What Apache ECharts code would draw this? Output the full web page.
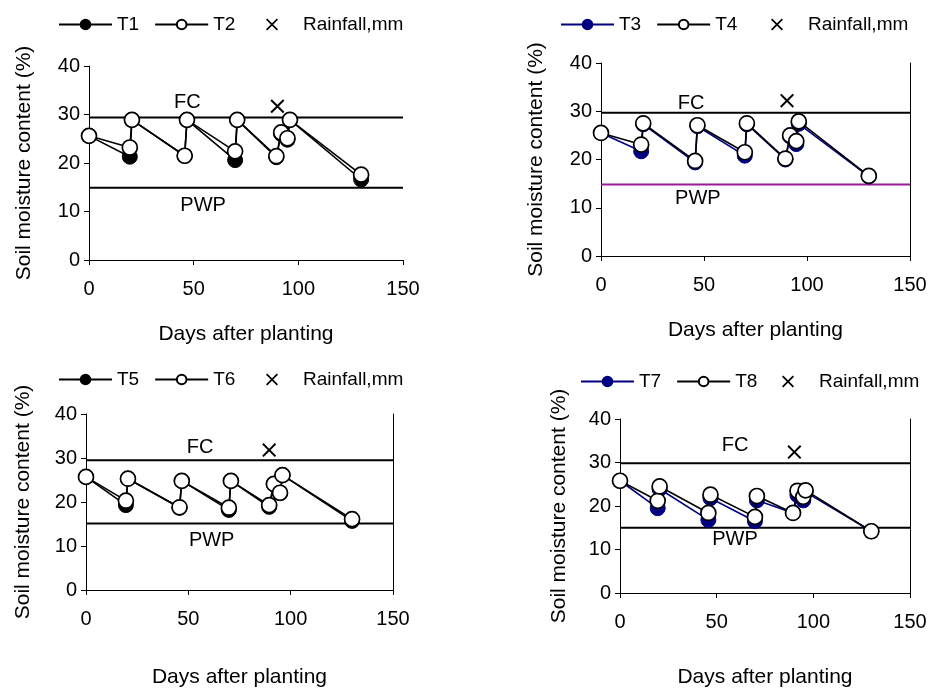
<!DOCTYPE html>
<html>
<head>
<meta charset="utf-8">
<script src="https://cdn.jsdelivr.net/npm/echarts@6/dist/echarts.min.js"></script>
<style>
  html, body { margin: 0; padding: 0; background: #fff; }
  #chart { width: 932px; height: 689px; }
</style>
</head>
<body>
<div id="chart"></div>
<script>
// measurement days (shared by all four panels)
var days = [0, 19.5, 20.5, 45.7, 46.8, 69.8, 70.8, 89.5, 91.8, 94.8, 96, 130];

// soil moisture (%) per treatment
var T1 = [25.6, 21.3, 28.9, 21.5, 28.9, 20.6, 28.9, 21.2, 26.0, 24.8, 28.9, 16.6];
var T2 = [25.6, 23.2, 28.9, 21.5, 28.9, 22.4, 28.9, 21.4, 26.3, 25.1, 28.9, 17.6];
var T3 = [25.5, 21.7, 27.3, 19.4, 26.9, 20.8, 27.3, 20.0, 24.8, 23.2, 27.4, 16.5];
var T4 = [25.5, 23.1, 27.5, 19.7, 27.1, 21.5, 27.5, 20.2, 25.0, 23.8, 27.9, 16.6];
var T5 = [25.7, 19.3, 25.3, 18.7, 24.8, 18.2, 24.8, 18.9, 24.0, 22.0, 26.1, 15.7];
var T6 = [25.7, 20.3, 25.3, 18.8, 24.8, 18.7, 24.8, 19.3, 24.1, 22.1, 26.1, 16.1];
var T7 = [25.8, 19.5, 23.9, 16.8, 21.8, 16.5, 21.3, 18.4, 22.5, 21.3, 23.2, 14.2];
var T8 = [25.8, 21.2, 24.5, 18.4, 22.6, 17.5, 22.3, 18.4, 23.5, 22.1, 23.6, 14.2];

// rainfall marker [day, value] per panel
var rainDay = [90, 90.3, 89.5, 90.2];
var rainVal = [31.7, 32.2, 31.8, 32.4];

// field capacity / permanent wilting point per panel
var fcVal = [29.4, 29.7, 29.5, 29.8];
var pwpVal = [14.9, 14.8, 15.1, 15.0];

// FC / PWP text anchors [day, value]
var fcLabel = [[47, 32.4], [43.7, 31.7], [55.7, 32.5], [59.5, 33.8]];
var pwpLabel = [[54.5, 11.3], [47, 12.0], [61.4, 11.2], [59.5, 12.2]];

var xTicks = [0, 50, 100, 150];
var yTicks = [0, 10, 20, 30, 40];

var names = [['T1', 'T2'], ['T3', 'T4'], ['T5', 'T6'], ['T7', 'T8']];
var seriesData = [[T1, T2], [T3, T4], [T5, T6], [T7, T8]];
var filledColor = ['#000000', '#000080', '#000000', '#000080'];
var pwpColor = ['#000000', '#9a1a9a', '#000000', '#000000'];

// layout
var grids = [
  {left: 89, top: 66, width: 314, height: 194},
  {left: 601, top: 63, width: 309, height: 193},
  {left: 86, top: 414, width: 307, height: 186},
  {left: 620, top: 419, width: 290, height: 181}
];
var legendPos = [[58, 15], [560, 15], [58, 370], [580, 372]];
var rainLegendX = [266, 771, 266, 782];
var xNameGap = [64, 64, 77, 74];
var yNameGap = [54, 54, 52, 50];
var rightBorder = [false, true, true, true];

var font = 'Liberation Sans, Arial, sans-serif';
var cross = 'path://M0,1L1,0L5,4L9,0L10,1L6,5L10,9L9,10L5,6L1,10L0,9L4,5Z';

function pairs(xs, ys) {
  var out = [];
  for (var i = 0; i < xs.length; i++) out.push([xs[i], ys[i]]);
  return out;
}

var option = {
  animation: false,
  backgroundColor: '#fff',
  textStyle: {fontFamily: font, color: '#000'},
  grid: [], xAxis: [], yAxis: [], legend: [], series: []
};

for (var p = 0; p < 4; p++) {
  option.grid.push(grids[p]);
  option.xAxis.push({
    type: 'value', gridIndex: p, min: 0, max: 150, interval: 50,
    name: 'Days after planting', nameLocation: 'middle', nameGap: xNameGap[p],
    nameTextStyle: {fontSize: 21, color: '#000', fontFamily: font},
    axisLine: {show: true, onZero: false, lineStyle: {color: '#000', width: 1}},
    axisTick: {show: true, length: 5, lineStyle: {color: '#000'}},
    axisLabel: {fontSize: 20, color: '#000', margin: 19, fontFamily: font,
      formatter: function (v) { return xTicks.indexOf(v) >= 0 ? String(v) : ''; }},
    splitLine: {show: false}
  });
  option.yAxis.push({
    type: 'value', gridIndex: p, min: 0, max: 40, interval: 10,
    name: 'Soil moisture content (%)', nameLocation: 'middle', nameGap: yNameGap[p],
    nameTextStyle: {fontSize: 21, color: '#000', fontFamily: font},
    axisLine: {show: true, lineStyle: {color: '#000', width: 1}},
    axisTick: {show: true, length: 5, lineStyle: {color: '#000'}},
    axisLabel: {fontSize: 20, color: '#000', margin: 9, fontFamily: font,
      formatter: function (v) { return yTicks.indexOf(v) >= 0 ? String(v) : ''; }},
    splitLine: {show: false}
  });
  option.legend.push({
    left: legendPos[p][0], top: legendPos[p][1], padding: 0,
    itemWidth: 53, itemHeight: 12, itemGap: 15, selectedMode: false,
    textStyle: {fontSize: 19, color: '#000', fontFamily: font},
    data: [names[p][0], names[p][1]]
  });
  option.legend.push({
    left: rainLegendX[p], top: legendPos[p][1], padding: 0,
    itemWidth: 12, itemHeight: 12, selectedMode: false,
    textStyle: {fontSize: 19, color: '#000', fontFamily: font, padding: [0, 0, 0, 20]},
    data: ['Rainfall,mm']
  });

  var xi = p, yi = p;

  // FC / PWP reference lines
  option.series.push({
    type: 'line', name: 'FC' + p, xAxisIndex: xi, yAxisIndex: yi, symbol: 'none',
    lineStyle: {color: '#000', width: 2}, data: [[0, fcVal[p]], [150, fcVal[p]]], z: 1
  });
  option.series.push({
    type: 'line', name: 'PWP' + p, xAxisIndex: xi, yAxisIndex: yi, symbol: 'none',
    lineStyle: {color: pwpColor[p], width: 2}, data: [[0, pwpVal[p]], [150, pwpVal[p]]], z: 1
  });
  option.series.push({
    type: 'scatter', name: 'lbl' + p, xAxisIndex: xi, yAxisIndex: yi, symbolSize: 0,
    silent: true, itemStyle: {opacity: 1},
    label: {show: true, position: 'inside', fontSize: 20, color: '#000', opacity: 1,
      fontFamily: font, formatter: function (d) { return d.data[2]; }},
    data: [[fcLabel[p][0], fcLabel[p][1], 'FC'], [pwpLabel[p][0], pwpLabel[p][1], 'PWP']]
  });

  // filled treatment
  option.series.push({
    type: 'line', name: names[p][0], xAxisIndex: xi, yAxisIndex: yi,
    symbol: 'circle', symbolSize: 15, showAllSymbol: true,
    itemStyle: {color: filledColor[p], borderColor: filledColor[p], borderWidth: 1},
    lineStyle: {color: filledColor[p], width: 1.6},
    data: pairs(days, seriesData[p][0]), z: 3
  });
  // open treatment
  option.series.push({
    type: 'line', name: names[p][1], xAxisIndex: xi, yAxisIndex: yi,
    symbol: 'circle', symbolSize: 15, showAllSymbol: true,
    itemStyle: {color: '#fff', borderColor: '#000', borderWidth: 1.7},
    lineStyle: {color: '#000', width: 1.6},
    data: pairs(days, seriesData[p][1]), z: 4
  });
  // rainfall
  option.series.push({
    type: 'scatter', name: 'Rainfall,mm', xAxisIndex: xi, yAxisIndex: yi,
    symbol: cross, symbolSize: 14, itemStyle: {color: '#000', opacity: 1},
    data: [[rainDay[p], rainVal[p]]], z: 5
  });
}

// right-hand frame lines for panels 2-4
for (var q = 0; q < 4; q++) {
  if (!rightBorder[q]) continue;
  option.yAxis.push({
    type: 'value', gridIndex: q, position: 'right', min: 0, max: 40,
    axisLine: {show: true, lineStyle: {color: '#000', width: 1}},
    axisTick: {show: false}, axisLabel: {show: false}, splitLine: {show: false}
  });
}

var chart = echarts.init(document.getElementById('chart'));
chart.setOption(option);
</script>
</body>
</html>
